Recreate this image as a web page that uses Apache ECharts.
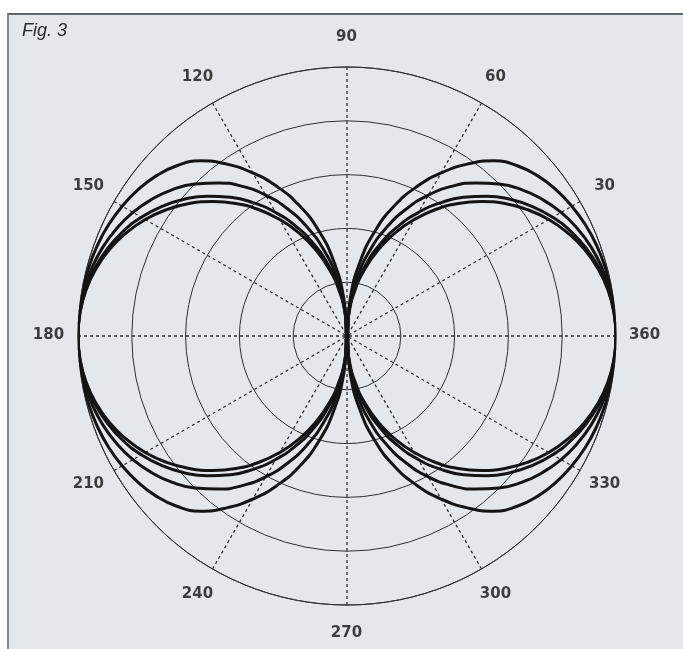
<!DOCTYPE html>
<html>
<head>
<meta charset="utf-8">
<title>Fig. 3</title>
<script src="https://cdn.jsdelivr.net/npm/echarts@6/dist/echarts.min.js"></script>
<style>
  html, body { margin: 0; padding: 0; background: #fff; }
  #frame {
    position: absolute; left: 7px; top: 13px; right: 0; bottom: 0;
    background: #e5e8ea;
    border-top: 2px solid #62666a;
    border-left: 2px solid #888b8e;
  }
  #chart { position: absolute; left: 0; top: 0; width: 683px; height: 649px; }
</style>
</head>
<body>
<div id="frame"></div>
<div id="chart"></div>
<script>
// radius every 5 degrees, 0..90 (outer ring = 1)
var angleStep = 5;
var lobeA = [1, 0.999, 0.997, 0.993, 0.987, 0.978, 0.965, 0.948, 0.926, 0.895, 0.850, 0.780, 0.700, 0.612, 0.515, 0.405, 0.280, 0.143, 0];
var lobeB = [1, 0.998, 0.992, 0.981, 0.966, 0.945, 0.919, 0.886, 0.847, 0.799, 0.743, 0.679, 0.605, 0.521, 0.429, 0.330, 0.224, 0.113, 0];
var lobeC = [1, 0.997, 0.987, 0.971, 0.948, 0.919, 0.883, 0.840, 0.791, 0.735, 0.673, 0.604, 0.530, 0.451, 0.366, 0.278, 0.187, 0.094, 0];
var lobeD = [1, 0.996, 0.985, 0.966, 0.940, 0.906, 0.866, 0.819, 0.766, 0.707, 0.643, 0.574, 0.500, 0.423, 0.342, 0.259, 0.174, 0.087, 0];

// angle tick labels
var angleTicks = [0, 30, 60, 90, 120, 150, 180, 210, 240, 270, 300, 330];
var angleLabels = ['360', '30', '60', '90', '120', '150', '180', '210', '240', '270', '300', '330'];
var labelRadius = 1.108;

// the pattern is symmetric about both axes, so one quadrant gives the whole curve
function buildLobe(quarter) {
  var pts = [];
  for (var a = 0; a <= 360; a += angleStep) {
    var q = a % 180;
    if (q > 90) q = 180 - q;
    pts.push([quarter[q / angleStep], a]);
  }
  return pts;
}

function lobeSeries(name, quarter) {
  return {
    name: name,
    type: 'line',
    coordinateSystem: 'polar',
    data: buildLobe(quarter),
    showSymbol: false,
    smooth: 0.5,
    clip: false,
    silent: true,
    lineStyle: { color: '#141414', width: 3, join: 'round' },
    z: 3
  };
}

var myChart = echarts.init(document.getElementById('chart'));

var option = {
  backgroundColor: 'transparent',
  animation: false,
  title: {
    text: 'Fig. 3',
    left: 22,
    top: 22,
    padding: 0,
    textStyle: {
      fontFamily: 'Liberation Sans',
      fontStyle: 'italic',
      fontWeight: 'normal',
      fontSize: 18,
      color: '#2a2a2a'
    }
  },
  polar: {
    center: [347, 336],
    radius: 269
  },
  angleAxis: {
    type: 'value',
    min: 0,
    max: 360,
    interval: 30,
    startAngle: 0,
    clockwise: false,
    axisLine: { lineStyle: { color: '#2e2e2e', width: 1 } },
    axisTick: { show: false },
    axisLabel: { show: false },
    splitLine: { show: true, lineStyle: { color: '#2e2e2e', width: 1.3, type: [3, 3] } }
  },
  radiusAxis: {
    type: 'value',
    min: 0,
    max: 1,
    interval: 0.2,
    axisLine: { show: false },
    axisTick: { show: false },
    axisLabel: { show: false },
    splitLine: { show: true, lineStyle: { color: '#2e2e2e', width: 1 } }
  },
  series: [
    lobeSeries('A', lobeA),
    lobeSeries('B', lobeB),
    lobeSeries('C', lobeC),
    lobeSeries('D', lobeD),
    {
      name: 'labels',
      type: 'scatter',
      coordinateSystem: 'polar',
      data: angleTicks.map(function (a) { return [labelRadius, a]; }),
      symbolSize: 1,
      clip: false,
      silent: true,
      itemStyle: { color: 'rgba(0,0,0,0)' },
      label: {
        show: true,
        position: [0, 0],
        align: 'center',
        verticalAlign: 'middle',
        formatter: function (p) { return angleLabels[p.dataIndex]; },
        fontFamily: 'DejaVu Sans',
        fontWeight: 'bold',
        fontSize: 15,
        color: '#111',
        textBorderWidth: 0
      }
    }
  ]
};

myChart.setOption(option);

window.addEventListener('resize', function () {
  myChart.resize();
});
</script>
</body>
</html>
